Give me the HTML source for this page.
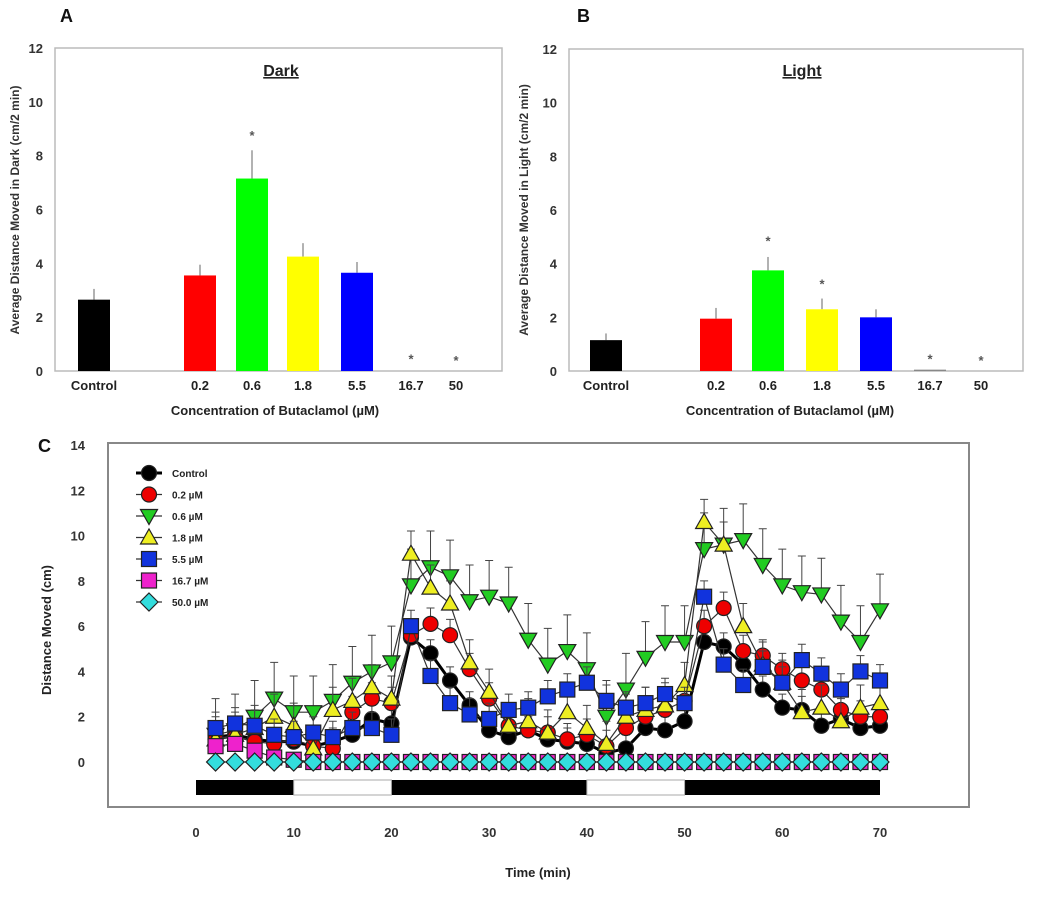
<!DOCTYPE html>
<html><head><meta charset="utf-8"><style>
body{margin:0;background:#fff;}
svg{display:block;font-family:"Liberation Sans",Arial,sans-serif;font-weight:bold;}
</style></head><body>
<svg id="fig" width="1050" height="902" viewBox="0 0 1050 902"></svg>
<script>
const barCats=["Control","0.2","0.6","1.8","5.5","16.7","50"];
const barColors=["#000","#f00","#0f0","#ff0","#00f","#888","#888"];
const darkVals=[2.65,3.55,7.15,4.25,3.65,0,0];
const darkErr=[0.4,0.4,1.05,0.5,0.4,0,0];
const darkStars=[null,null,8.8,null,null,0.5,0.45];
const lightVals=[1.15,1.95,3.75,2.3,2.0,0.05,0];
const lightErr=[0.25,0.4,0.5,0.4,0.3,0,0];
const lightStars=[null,null,4.9,3.3,null,0.5,0.45];
const barTicks=[0,2,4,6,8,10,12];

const times=[2,4,6,8,10,12,14,16,18,20,22,24,26,28,30,32,34,36,38,40,42,44,46,48,50,52,54,56,58,60,62,64,66,68,70];
const sControl=[1.1,1.2,1.0,0.9,0.9,0.7,0.9,1.2,1.9,1.7,5.5,4.8,3.6,2.5,1.4,1.1,1.4,1.0,0.9,0.8,0.4,0.6,1.5,1.4,1.8,5.3,5.1,4.3,3.2,2.4,2.3,1.6,1.9,1.5,1.6];
const s02=[1.0,1.1,0.9,0.8,1.0,0.7,0.6,2.2,2.8,2.6,5.6,6.1,5.6,4.1,2.8,1.6,1.4,1.3,1.0,1.2,0.7,1.5,2.0,2.3,2.7,6.0,6.8,4.9,4.7,4.1,3.6,3.2,2.3,2.0,2.0];
const s06=[1.2,1.4,2.0,2.8,2.2,2.2,2.7,3.5,4.0,4.4,7.8,8.6,8.2,7.1,7.3,7.0,5.4,4.3,4.9,4.1,2.0,3.2,4.6,5.3,5.3,9.4,9.6,9.8,8.7,7.8,7.5,7.4,6.2,5.3,6.7];
const s18=[1.0,1.2,1.5,2.0,1.6,0.6,2.3,2.7,3.3,2.8,9.2,7.7,7.0,4.4,3.1,1.6,1.8,1.3,2.2,1.5,0.8,2.0,2.3,2.5,3.4,10.6,9.6,6.0,4.3,3.5,2.2,2.4,1.8,2.4,2.6];
const s55=[1.5,1.7,1.6,1.2,1.1,1.3,1.1,1.5,1.5,1.2,6.0,3.8,2.6,2.1,1.9,2.3,2.4,2.9,3.2,3.5,2.7,2.4,2.6,3.0,2.6,7.3,4.3,3.4,4.2,3.5,4.5,3.9,3.2,4.0,3.6];
const s167=[0.7,0.8,0.5,0.2,0.1,0,0,0,0,0,0,0,0,0,0,0,0,0,0,0,0,0,0,0,0,0,0,0,0,0,0,0,0,0,0];
const s50=[0,0,0,0,0,0,0,0,0,0,0,0,0,0,0,0,0,0,0,0,0,0,0,0,0,0,0,0,0,0,0,0,0,0,0];
const seriesNames=["Control","0.2 µM","0.6 µM","1.8 µM","5.5 µM","16.7 µM","50.0 µM"];
const seriesErr=[0.6,0.7,1.6,1.0,0.7,0.2,0];
const timeTicks=[0,10,20,30,40,50,60,70];
const lineTicks=[0,2,4,6,8,10,12,14];
const darkPeriods=[[0,10],[20,40],[50,70]];
const lightPeriods=[[10,20],[40,50]];

const NS="http://www.w3.org/2000/svg";
const svg=document.getElementById('fig');
function mk(tag,attrs,parent,text){const e=document.createElementNS(NS,tag);for(const k in attrs)e.setAttribute(k,attrs[k]);if(text!==undefined)e.textContent=text;(parent||svg).appendChild(e);return e;}

function barPanel(p){
  const g=mk('g',{});
  
  
  const y=v=>p.y0-(v/12)*(p.y0-p.y12);
  const fr=mk('rect',{x:p.L,y:p.T,width:p.R-p.L,height:p.y0-p.T,fill:'none',stroke:'#bbb','stroke-width':1.5},g);
  
  barTicks.forEach(t=>{const tx=mk('text',{x:p.L-12,y:y(t)+5,'text-anchor':'end','font-size':13,fill:'#333'},g,t);
    });
  barCats.forEach((c,i)=>{
    const cx=p.xs[i],v=p.vals[i],e=p.err[i];
    if(v>0){
      if(e>0){const l=mk('line',{x1:cx,x2:cx,y1:y(v),y2:y(v+e),stroke:'#999','stroke-width':1.5},g);
        }
      const r=mk('rect',{x:cx-16,y:y(v),width:32,height:y(0)-y(v),fill:barColors[i]},g);
      
    }
    if(p.stars[i]!==null){const s=mk('text',{x:cx,y:y(p.stars[i])+6,'text-anchor':'middle','font-size':13,fill:'#555'},g,'*');
      }
    const tl=mk('text',{x:cx,y:390,'text-anchor':'middle','font-size':13,fill:'#222'},g,c);
    
  });
  const xt=mk('text',{x:p.xtx,y:415,'text-anchor':'middle','font-size':13,fill:'#222'},g,'Concentration of Butaclamol (µM)');
  
  const yt=mk('text',{x:0,y:0,transform:`translate(${p.ytx},210) rotate(-90)`,'text-anchor':'middle','font-size':12,fill:'#333'},g,p.ytitle);
  
  const tt=mk('text',{x:p.ttx,y:76,'text-anchor':'middle','font-size':16,fill:'#222','text-decoration':'underline'},g,p.title);
  
  const pl=mk('text',{x:p.lx,y:22,'font-size':18,fill:'#111'},g,p.letter);
  
}
barPanel({id:'dark',L:55,R:502,T:48,y0:371,y12:48,xs:[94,200,252,303,357,411,456],vals:darkVals,err:darkErr,stars:darkStars,
  xtx:275,ytx:19,ytitle:'Average Distance Moved in Dark (cm/2 min)',title:'Dark',ttx:281,lx:60,letter:'A'});
barPanel({id:'light',L:569,R:1023,T:49,y0:371,y12:49,xs:[606,716,768,822,876,930,981],vals:lightVals,err:lightErr,stars:lightStars,
  xtx:790,ytx:528,ytitle:'Average Distance Moved in Light (cm/2 min)',title:'Light',ttx:802,lx:577,letter:'B'});

// Panel C
const gc=mk('g',{});


const X=t=>196+(t/70)*(880-196);
const Y=v=>762-(v/14)*(762-445);
const fr=mk('rect',{x:108,y:443,width:861,height:364,fill:'none',stroke:'#888','stroke-width':2},gc);

lineTicks.forEach(t=>{const tx=mk('text',{x:85,y:Y(t)+5,'text-anchor':'end','font-size':13,fill:'#333'},gc,t);
  });
timeTicks.forEach(t=>{const tx=mk('text',{x:X(t),y:837,'text-anchor':'middle','font-size':13,fill:'#333'},gc,t);
  });
darkPeriods.forEach(d=>{const r=mk('rect',{x:X(d[0]),y:780,width:X(d[1])-X(d[0]),height:15,fill:'#000'},gc);
  });
lightPeriods.forEach(d=>{const r=mk('rect',{x:X(d[0]),y:780,width:X(d[1])-X(d[0]),height:15,fill:'#fff',stroke:'#aaa','stroke-width':1},gc);
  });
const xt=mk('text',{x:538,y:877,'text-anchor':'middle','font-size':13,fill:'#222'},gc,'Time (min)');

const yt=mk('text',{x:0,y:0,transform:'translate(51,630) rotate(-90)','text-anchor':'middle','font-size':13,fill:'#222'},gc,'Distance Moved (cm)');

const cl=mk('text',{x:38,y:452,'font-size':18,fill:'#111'},gc,'C');


const allSeries=[sControl,s02,s06,s18,s55,s167,s50];
const fills=['#000','#e00','#2c2','#ee2','#13d','#e2c','#3dd'];
const shapes=['circle','circle','tri-down','tri-up','square','square','diamond'];
function marker(shape,x,y,fill,parent){
  const s=7.5;let e;
  if(shape==='circle')e=mk('circle',{cx:x,cy:y,r:s},parent);
  else if(shape==='square')e=mk('rect',{x:x-s,y:y-s,width:2*s,height:2*s},parent);
  else if(shape==='tri-down')e=mk('polygon',{points:`${x-s-1},${y-s+1} ${x+s+1},${y-s+1} ${x},${y+s+1}`},parent);
  else if(shape==='tri-up')e=mk('polygon',{points:`${x-s-1},${y+s-1} ${x+s+1},${y+s-1} ${x},${y-s-1}`},parent);
  else e=mk('polygon',{points:`${x},${y-s-1.5} ${x+s+1.5},${y} ${x},${y+s+1.5} ${x-s-1.5},${y}`},parent);
  e.setAttribute('fill',fill);e.setAttribute('stroke','#222');e.setAttribute('stroke-width','1.2');
  return e;
}
[0,1,2,3,4,5,6].forEach(si=>{
  const data=allSeries[si];
  const g=mk('g',{},gc);
  
  
  if(seriesErr[si]>0)times.forEach((t,i)=>{if(data[i]<=0)return;const e=seriesErr[si];
    const l=mk('path',{d:`M${X(t)},${Y(data[i])}V${Y(data[i]+e)}M${X(t)-4},${Y(data[i]+e)}H${X(t)+4}`,stroke:'#444','stroke-width':1,fill:'none'},g);
    });
  const pl=mk('polyline',{points:times.map((t,i)=>X(t)+','+Y(data[i])).join(' '),fill:'none',stroke:si===0?'#000':'#333','stroke-width':si===0?3:1.2},g);
  
  times.forEach((t,i)=>{const m=marker(shapes[si],X(t),Y(data[i]),fills[si],g);
    });
});
const lg=mk('g',{},gc);


seriesNames.forEach((n,i)=>{
  const yy=473+i*21.5;
  const e=mk('g',{},lg);
  
  
  mk('line',{x1:136,x2:162,y1:yy,y2:yy,stroke:i===0?'#000':'#333','stroke-width':i===0?3:1.2},e);
  marker(shapes[i],149,yy,fills[i],e);
  mk('text',{x:172,y:yy+4,'font-size':10,fill:'#222'},e,n);
});
</script>
</body></html>
